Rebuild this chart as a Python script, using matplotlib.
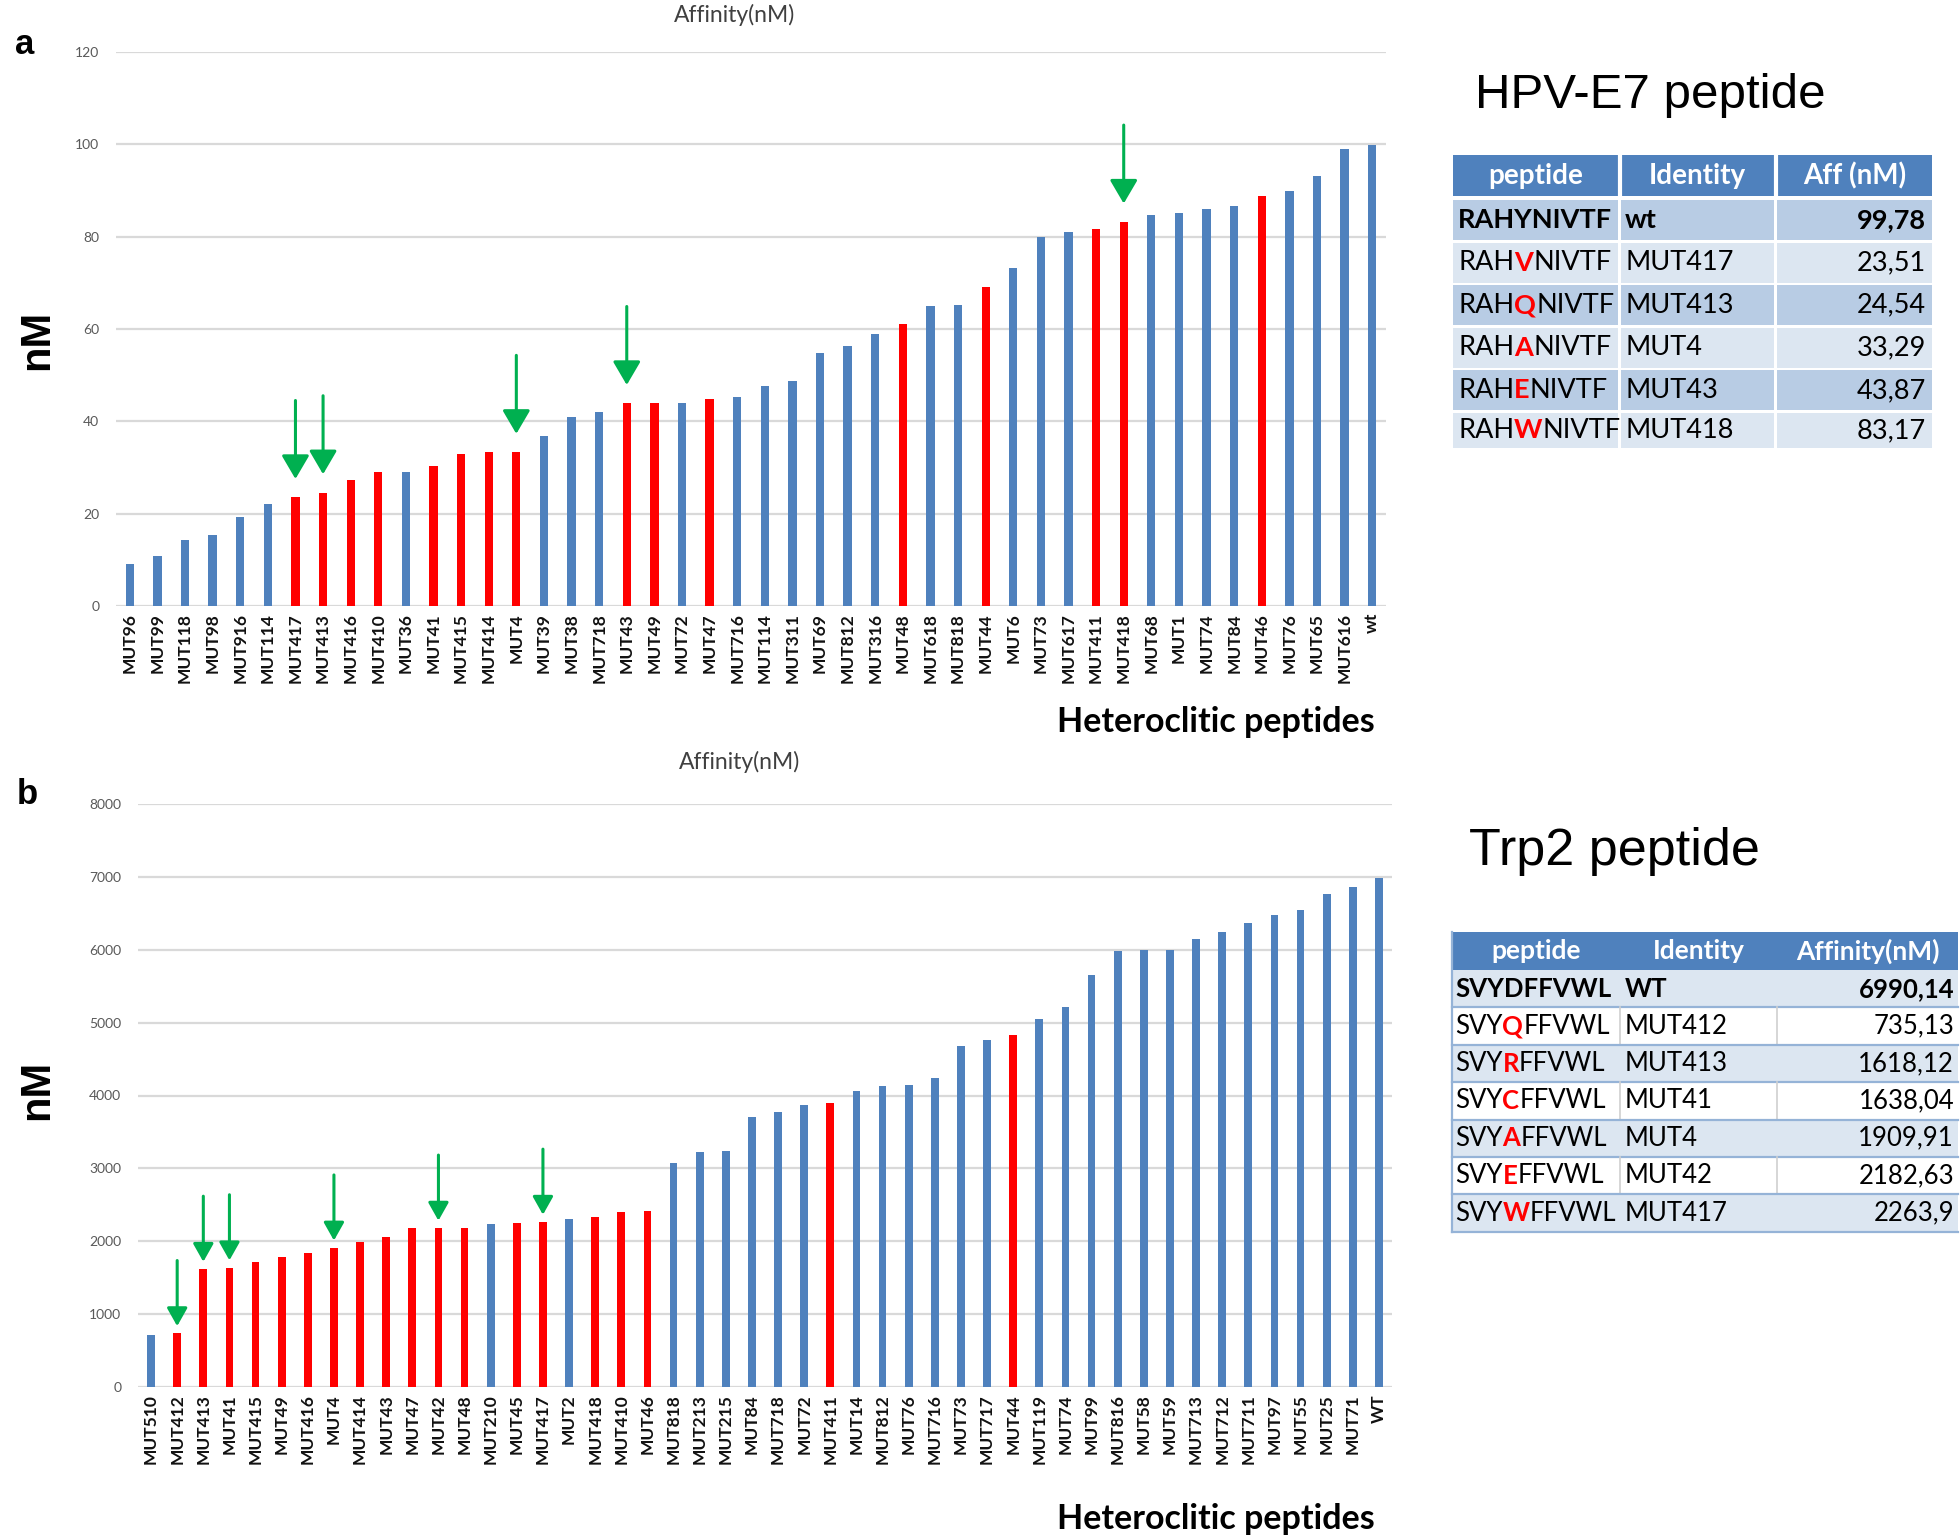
import numpy as np
import matplotlib.pyplot as plt
from matplotlib.patches import Rectangle

# ---- panel a: HPV-E7 heteroclitic peptides ----
a_labels = ['MUT96', 'MUT99', 'MUT118', 'MUT98', 'MUT916', 'MUT114', 'MUT417', 'MUT413',
            'MUT416', 'MUT410', 'MUT36', 'MUT41', 'MUT415', 'MUT414', 'MUT4', 'MUT39',
            'MUT38', 'MUT718', 'MUT43', 'MUT49', 'MUT72', 'MUT47', 'MUT716', 'MUT114',
            'MUT311', 'MUT69', 'MUT812', 'MUT316', 'MUT48', 'MUT618', 'MUT818', 'MUT44',
            'MUT6', 'MUT73', 'MUT617', 'MUT411', 'MUT418', 'MUT68', 'MUT1', 'MUT74',
            'MUT84', 'MUT46', 'MUT76', 'MUT65', 'MUT616', 'wt']
a_values = [9.2, 10.8, 14.4, 15.4, 19.2, 22.0, 23.51, 24.54,
            27.4, 29.0, 29.0, 30.4, 33.0, 33.3, 33.29, 36.9,
            41.0, 42.0, 43.87, 44.0, 44.0, 44.8, 45.2, 47.7,
            48.8, 54.7, 56.4, 59.0, 61.0, 65.0, 65.3, 69.1,
            73.2, 80.0, 81.0, 81.6, 83.17, 84.8, 85.1, 85.9,
            86.7, 88.9, 90.0, 93.2, 98.9, 99.78]
a_red = ['MUT417', 'MUT413', 'MUT416', 'MUT410', 'MUT41', 'MUT415', 'MUT414', 'MUT4',
         'MUT43', 'MUT49', 'MUT47', 'MUT48', 'MUT44', 'MUT411', 'MUT418', 'MUT46']
a_arrows = ['MUT417', 'MUT413', 'MUT4', 'MUT43', 'MUT418']

# ---- panel b: Trp2 heteroclitic peptides ----
b_labels = ['MUT510', 'MUT412', 'MUT413', 'MUT41', 'MUT415', 'MUT49', 'MUT416', 'MUT4',
            'MUT414', 'MUT43', 'MUT47', 'MUT42', 'MUT48', 'MUT210', 'MUT45', 'MUT417',
            'MUT2', 'MUT418', 'MUT410', 'MUT46', 'MUT818', 'MUT213', 'MUT215', 'MUT84',
            'MUT718', 'MUT72', 'MUT411', 'MUT14', 'MUT812', 'MUT76', 'MUT716', 'MUT73',
            'MUT717', 'MUT44', 'MUT119', 'MUT74', 'MUT99', 'MUT816', 'MUT58', 'MUT59',
            'MUT713', 'MUT712', 'MUT711', 'MUT97', 'MUT55', 'MUT25', 'MUT71', 'WT']
b_values = [720, 735.13, 1618.12, 1638.04, 1720, 1780, 1840, 1909.91,
            1990, 2060, 2180, 2182.63, 2185, 2230, 2250, 2263.9,
            2300, 2330, 2400, 2410, 3070, 3220, 3240, 3700,
            3770, 3870, 3900, 4060, 4130, 4140, 4240, 4680,
            4760, 4830, 5050, 5220, 5650, 5980, 6000, 6000,
            6150, 6250, 6370, 6470, 6550, 6760, 6860, 6990.14]
b_red = ['MUT412', 'MUT413', 'MUT41', 'MUT415', 'MUT49', 'MUT416', 'MUT4', 'MUT414',
         'MUT43', 'MUT47', 'MUT42', 'MUT48', 'MUT45', 'MUT417', 'MUT418', 'MUT410',
         'MUT46', 'MUT411', 'MUT44']
b_arrows = ['MUT412', 'MUT413', 'MUT41', 'MUT4', 'MUT42', 'MUT417']

# ---- tables ----
ta_header = ['peptide', 'Identity', 'Aff (nM)']
ta_peptide = ['RAHYNIVTF', 'RAHVNIVTF', 'RAHQNIVTF', 'RAHANIVTF', 'RAHENIVTF', 'RAHWNIVTF']
ta_identity = ['wt', 'MUT417', 'MUT413', 'MUT4', 'MUT43', 'MUT418']
ta_aff = ['99,78', '23,51', '24,54', '33,29', '43,87', '83,17']

tb_header = ['peptide', 'Identity', 'Affinity(nM)']
tb_peptide = ['SVYDFFVWL', 'SVYQFFVWL', 'SVYRFFVWL', 'SVYCFFVWL', 'SVYAFFVWL', 'SVYEFFVWL', 'SVYWFFVWL']
tb_identity = ['WT', 'MUT412', 'MUT413', 'MUT41', 'MUT4', 'MUT42', 'MUT417']
tb_aff = ['6990,14', '735,13', '1618,12', '1638,04', '1909,91', '2182,63', '2263,9']
mut_pos = 3

BLUE = '#4F81BD'
RED = '#FF0000'
GREEN = '#00B050'
W, H = 1960, 1539

fig = plt.figure(figsize=(W / 100, H / 100), dpi=100)


def rect(x0, y0, x1, y1):
    # pixel box with top-left origin -> figure fraction
    return [x0 / W, 1 - y1 / H, (x1 - x0) / W, (y1 - y0) / H]


def bar_panel(box, labels, values, red, arrows, ymax, step, tip, tail, hl, hw):
    ax = fig.add_axes(rect(*box))
    x = np.arange(len(labels))
    colors = [RED if l in red else BLUE for l in labels]
    ax.bar(x, values, width=0.3, color=colors, zorder=3)
    ax.set_xlim(-0.5, len(labels) - 0.5)
    ax.set_ylim(0, ymax)
    ax.set_yticks(np.arange(0, ymax + 1, step))
    ax.yaxis.grid(True, color='#D9D9D9', lw=1.6, zorder=0)
    for s in ax.spines.values():
        s.set_visible(False)
    ax.tick_params(axis='both', length=0)
    ax.tick_params(axis='y', colors='#595959', labelsize=10, pad=12)
    for t in ax.get_yticklabels():
        t.set_family('Lato')
    ax.set_xticks(x)
    ax.set_xticklabels(labels, rotation=90, fontsize=12.5, color='#111111',
                       family='Lato', fontweight='bold')
    ax.tick_params(axis='x', pad=5)
    for name in arrows:
        i = labels.index(name)
        v = values[i]
        ax.annotate('', xy=(i, v + tip), xytext=(i, v + tail),
                    arrowprops=dict(arrowstyle='-|>,head_length=%s,head_width=%s' % (hl, hw),
                                    color=GREEN, lw=2.2, shrinkA=0, shrinkB=0,
                                    mutation_scale=10), zorder=5)
    return ax


bar_panel((116, 52, 1386, 606), a_labels, a_values, a_red, a_arrows, 120, 20, 4, 21, 1.45, 0.85)
bar_panel((138, 804, 1392, 1387), b_labels, b_values, b_red, b_arrows, 8000, 1000, 100, 1000, 1.1, 0.62)

# overlay in pixel coordinates for labels and tables
ov = fig.add_axes([0, 0, 1, 1])
ov.set_xlim(0, W)
ov.set_ylim(H, 0)
ov.axis('off')

bold_font = 'Liberation Sans'
ov.text(25, 44, 'a', fontsize=25, fontweight='bold', family=bold_font, ha='center', va='center')
ov.text(27, 794, 'b', fontsize=25, fontweight='bold', family=bold_font, ha='center', va='center')
ov.text(37, 340, 'nM', fontsize=30, fontweight='bold', family=bold_font, rotation=90, ha='center', va='center')
ov.text(37, 1090, 'nM', fontsize=30, fontweight='bold', family=bold_font, rotation=90, ha='center', va='center')
ov.text(735, 15, 'Affinity(nM)', fontsize=16.5, color='#404040', family='Lato', ha='center', va='center')
ov.text(740, 762, 'Affinity(nM)', fontsize=16.5, color='#404040', family='Lato', ha='center', va='center')
ov.text(1375, 722, 'Heteroclitic peptides', fontsize=24.5, fontweight='bold', family='Lato', ha='right', va='center')
ov.text(1375, 1519, 'Heteroclitic peptides', fontsize=24.5, fontweight='bold', family='Lato', ha='right', va='center')
ov.text(1475, 96, 'HPV-E7 peptide', fontsize=35.5, family=bold_font, ha='left', va='center')
ov.text(1469, 852, 'Trp2 peptide', fontsize=37.5, family=bold_font, ha='left', va='center')

renderer = fig.canvas.get_renderer()
tfont = 'Lato'


def seq_text(x, y, seq, pos, size, bold):
    if pos is None:
        parts = [(seq, 'black', bold)]
    else:
        parts = [(seq[:pos], 'black', bold), (seq[pos], RED, True), (seq[pos + 1:], 'black', bold)]
    for s, c, b in parts:
        t = ov.text(x, y, s, color=c, fontsize=size, family=tfont,
                    fontweight='bold' if b else 'normal', ha='left', va='center')
        x += t.get_window_extent(renderer).width


# table a
cols_a = [(1453, 1618), (1621, 1774), (1777, 1932)]
ov.add_patch(Rectangle((1453, 155), 1932 - 1453, 41, color=BLUE, lw=0))
for j, (c0, c1) in enumerate(cols_a):
    if j > 0:
        ov.plot([c0 - 1.5, c0 - 1.5], [155, 196], color='white', lw=3)
    ov.text((c0 + c1) / 2, 176, ta_header[j], color='white', fontsize=20, family=tfont,
            fontweight='bold', ha='center', va='center')
for i in range(len(ta_peptide)):
    top = 200 + i * 42.6
    bot = min(top + 40, 448)
    fill = '#B8CCE4' if i % 2 == 0 else '#DCE6F1'
    for c0, c1 in cols_a:
        ov.add_patch(Rectangle((c0, top), c1 - c0, bot - top, color=fill, lw=0))
    yc = (top + bot) / 2
    bold = i == 0
    seq_text(1458, yc, ta_peptide[i], None if i == 0 else mut_pos, 19.5, bold)
    ov.text(1625, yc, ta_identity[i], fontsize=19.5, family=tfont,
            fontweight='bold' if bold else 'normal', ha='left', va='center')
    ov.text(1926, yc, ta_aff[i], fontsize=19.5, family=tfont,
            fontweight='bold' if bold else 'normal', ha='right', va='center')

# table b
cols_b = [(1452, 1620), (1620, 1777), (1777, 1958)]
ov.add_patch(Rectangle((1452, 932), 1958 - 1452, 38, color=BLUE, lw=0))
for j, (c0, c1) in enumerate(cols_b):
    ov.text((c0 + c1) / 2, 951, tb_header[j], color='white', fontsize=19, family=tfont,
            fontweight='bold', ha='center', va='center')
for i in range(len(tb_peptide)):
    top = 970 + i * 37.4
    bot = top + 37.4
    fill = '#DCE6F1' if i % 2 == 0 else 'white'
    ov.add_patch(Rectangle((1452, top), 1958 - 1452, bot - top, color=fill, lw=0))
    if i % 2 == 1:
        for c in (1620, 1777):
            ov.plot([c, c], [top, bot], color='#D0D0D0', lw=1.2)
    ov.plot([1452, 1958], [bot, bot], color='#95B3D7', lw=1.6)
    yc = (top + bot) / 2
    bold = i == 0
    seq_text(1455, yc, tb_peptide[i], None if i == 0 else mut_pos, 18.5, bold)
    ov.text(1625, yc, tb_identity[i], fontsize=18.5, family=tfont,
            fontweight='bold' if bold else 'normal', ha='left', va='center')
    ov.text(1954, yc, tb_aff[i], fontsize=18.5, family=tfont,
            fontweight='bold' if bold else 'normal', ha='right', va='center')
ov.plot([1452, 1452], [932, 970 + 7 * 37.4], color='#95B3D7', lw=1.6)

fig.savefig('out.png', dpi=100)
